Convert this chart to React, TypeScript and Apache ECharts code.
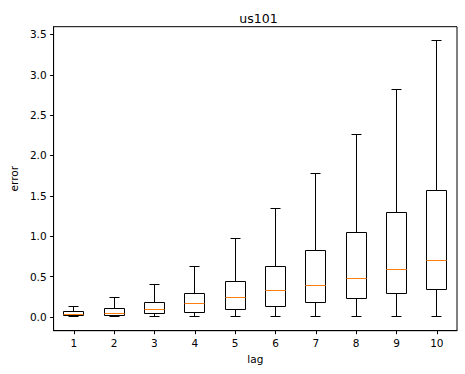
import React, { useEffect, useRef } from "react";
import * as echarts from "echarts";

const categories = ["1", "2", "3", "4", "5", "6", "7", "8", "9", "10"];
const whiskerLow = [0, 0, 0, 0, 0, 0, 0, 0, 0, 0];
const q1 = [0.012, 0.017, 0.037, 0.058, 0.092, 0.133, 0.173, 0.223, 0.285, 0.34];
const median = [0.033, 0.037, 0.087, 0.166, 0.235, 0.327, 0.389, 0.48, 0.582, 0.703];
const q3 = [0.062, 0.104, 0.182, 0.285, 0.439, 0.62, 0.826, 1.041, 1.297, 1.566];
const whiskerHigh = [0.124, 0.235, 0.397, 0.624, 0.971, 1.343, 1.781, 2.26, 2.813, 3.425];
const yTicks = [0, 0.5, 1.0, 1.5, 2.0, 2.5, 3.0, 3.5];

const FONT = "DejaVu Sans";

const px = (v: number) => Math.round(v - 0.5) + 0.5;

export default function App() {
  const ref = useRef<HTMLDivElement>(null);
  useEffect(() => {
    if (!ref.current) return;
    const chart = echarts.init(ref.current, null, { renderer: "svg" });
    const data = categories.map((_, i) => [i, whiskerLow[i], q1[i], median[i], q3[i], whiskerHigh[i]]);
    chart.setOption({
      animation: false,
      backgroundColor: "#ffffff",
      title: {
        text: "us101",
        left: 253.5,
        textAlign: "center",
        top: 7,
        textStyle: { fontFamily: FONT, fontSize: 12.5, fontWeight: "normal", color: "#000" },
      },
      grid: {
        left: 50,
        right: 8,
        top: 26.7,
        bottom: 43.3,
        show: true,
        borderColor: "#000",
        borderWidth: 1,
        backgroundColor: "transparent",
      },
      xAxis: {
        type: "category",
        data: categories,
        name: "lag",
        nameLocation: "middle",
        nameGap: 21,
        nameTextStyle: { fontFamily: FONT, fontSize: 10.5, color: "#000" },
        axisLine: { show: true, onZero: false, lineStyle: { color: "#000", width: 1 } },
        axisTick: { show: true, alignWithLabel: true, length: 3.5, lineStyle: { color: "#000" } },
        axisLabel: { fontFamily: FONT, fontSize: 10.5, color: "#000", margin: 7 },
        splitLine: { show: false },
      },
      yAxis: {
        type: "value",
        min: -0.171,
        max: 3.596,
        name: "error",
        nameLocation: "middle",
        nameGap: 31,
        nameTextStyle: { fontFamily: FONT, fontSize: 10.5, color: "#000" },
        axisLine: { show: true, onZero: false, lineStyle: { color: "#000", width: 1 } },
        axisTick: { show: true, length: 3.5, lineStyle: { color: "#000" }, customValues: yTicks },
        axisLabel: {
          fontFamily: FONT,
          fontSize: 10.5,
          color: "#000",
          margin: 7,
          customValues: yTicks,
          formatter: (v: number) => v.toFixed(1),
        },
        splitLine: { show: false },
      },
      series: [
        {
          type: "custom",
          data,
          encode: { x: 0, y: [1, 2, 3, 4, 5] },
          renderItem: (params: any, api: any) => {
            const idx = api.value(0);
            const band = api.size([1, 0])[0];
            const bw = band * 0.5;
            const cw = bw * 0.5;
            const pMin = api.coord([idx, api.value(1)]);
            const pQ1 = api.coord([idx, api.value(2)]);
            const pMed = api.coord([idx, api.value(3)]);
            const pQ3 = api.coord([idx, api.value(4)]);
            const pMax = api.coord([idx, api.value(5)]);
            const cx = px(pMin[0]);
            const yMin = px(pMin[1]);
            const yQ1 = px(pQ1[1]);
            const yMed = px(pMed[1]);
            const yQ3 = px(pQ3[1]);
            const yMax = px(pMax[1]);
            const bl = px(pMin[0] - bw / 2);
            const br = px(pMin[0] + bw / 2);
            const cl = px(pMin[0] - cw / 2);
            const cr = px(pMin[0] + cw / 2);
            const black = { stroke: "#000", lineWidth: 1, fill: null };
            return {
              type: "group",
              children: [
                { type: "line", shape: { x1: cx, y1: yQ1, x2: cx, y2: yMin }, style: black },
                { type: "line", shape: { x1: cx, y1: yQ3, x2: cx, y2: yMax }, style: black },
                { type: "line", shape: { x1: cl, y1: yMin, x2: cr, y2: yMin }, style: black },
                { type: "line", shape: { x1: cl, y1: yMax, x2: cr, y2: yMax }, style: black },
                {
                  type: "rect",
                  shape: { x: bl, y: yQ3, width: br - bl, height: yQ1 - yQ3 },
                  style: { stroke: "#000", lineWidth: 1, fill: "none" },
                },
                {
                  type: "line",
                  shape: { x1: bl, y1: yMed, x2: br, y2: yMed },
                  style: { stroke: "#ff7f0e", lineWidth: 1 },
                },
              ],
            };
          },
        },
      ],
    });
    return () => chart.dispose();
  }, []);
  return (
    <div
      ref={ref}
      style={{ position: "fixed", left: 0, top: 0, width: 465, height: 374 }}
    />
  );
}
